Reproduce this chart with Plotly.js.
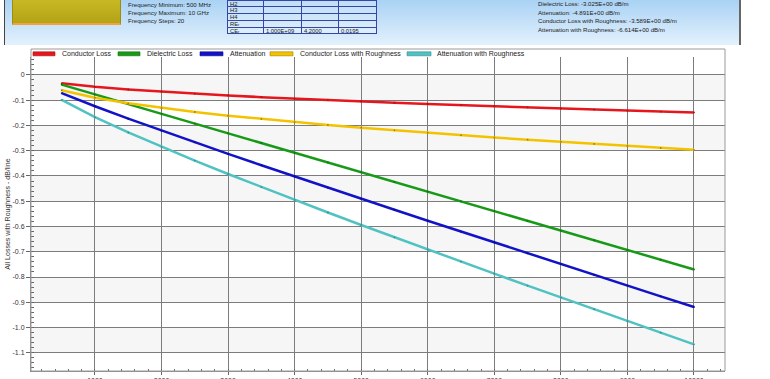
<!DOCTYPE html>
<html>
<head>
<meta charset="utf-8">
<script src="https://cdn.plot.ly/plotly-3.0.1.min.js"></script>
<style>
html,body{margin:0;padding:0;background:#fff;overflow:hidden;}
#wrap{position:relative;width:770px;height:379px;font-family:"Liberation Sans",Arial,sans-serif;}
#chart{position:absolute;left:0;top:0;width:770px;height:379px;}
#panel{position:absolute;left:4px;top:0;width:734px;height:45px;
  background:linear-gradient(#a9d2f4,#e3f1fd);border-left:1.5px solid #444;border-right:2px solid #666;z-index:5;}
#olive{position:absolute;left:7px;top:0;width:107px;height:23px;
  background:linear-gradient(#c9b824,#b3a316);border:1px solid #9c8c12;border-top:none;border-bottom:2px solid #f3a13c;}
.ptxt{position:absolute;font-size:6.1px;color:#222;white-space:nowrap;line-height:8px;}
.cell{position:absolute;border:1px solid #3447a6;box-sizing:border-box;font-size:5.8px;color:#222;
  line-height:6px;padding-left:2px;white-space:nowrap;overflow:hidden;background:rgba(255,255,255,0.25);}
</style>
</head>
<body>
<div id="wrap">
  <div id="chart"></div>
  <div id="panel">
    <div id="olive"></div>
  </div>
</div>
<script>
// ---------------- data ----------------
var freqMHz = [500,1000,1500,2000,2500,3000,3500,4000,4500,5000,5500,6000,6500,7000,7500,8000,8500,9000,9500,10000];
var conductorLoss = [-0.0332,-0.0470,-0.0576,-0.0665,-0.0743,-0.0814,-0.0879,-0.0940,-0.0997,-0.1051,
                     -0.1102,-0.1151,-0.1198,-0.1244,-0.1287,-0.1329,-0.1370,-0.1410,-0.1449,-0.1486];
var dielectricLoss = [-0.0385,-0.0770,-0.1155,-0.1540,-0.1925,-0.2310,-0.2695,-0.3080,-0.3465,-0.3850,
                      -0.4235,-0.4620,-0.5005,-0.5390,-0.5775,-0.6160,-0.6545,-0.6930,-0.7315,-0.7700];
var attenuation = [-0.0717,-0.1240,-0.1731,-0.2205,-0.2668,-0.3124,-0.3574,-0.4020,-0.4462,-0.4901,
                   -0.5337,-0.5771,-0.6203,-0.6634,-0.7062,-0.7489,-0.7915,-0.8340,-0.8764,-0.9186];
var conductorLossRough = [-0.0604,-0.0902,-0.1123,-0.1307,-0.1467,-0.1612,-0.1743,-0.1866,-0.1981,-0.2089,
                          -0.2192,-0.2290,-0.2385,-0.2478,-0.2564,-0.2649,-0.2730,-0.2812,-0.2889,-0.2965];
var attenuationRough = [-0.0989,-0.1672,-0.2278,-0.2847,-0.3392,-0.3922,-0.4438,-0.4946,-0.5446,-0.5939,
                        -0.6427,-0.6910,-0.7390,-0.7868,-0.8339,-0.8809,-0.9275,-0.9742,-1.0204,-1.0665];
var seriesNames = ["Conductor Loss","Dielectric Loss","Attenuation","Conductor Loss with Roughness","Attenuation with Roughness"];
var seriesColors = ["#e5171d","#189a18","#1212c6","#f3c300","#50c2c2"];
var markerColors = ["#a01414","#127012","#0c0c8a","#a08000","#358e8e"];

var yTickVals = [0,-0.1,-0.2,-0.3,-0.4,-0.5,-0.6,-0.7,-0.8,-0.9,-1.0,-1.1];
var yTickText = ["0","-0.1","-0.2","-0.3","-0.4","-0.5","-0.6","-0.7","-0.8","-0.9","-1.0","-1.1"];
var xTickVals = [1000,2000,3000,4000,5000,6000,7000,8000,9000,10000];
var xTickText = ["1000","2000","3000","4000","5000","6000","7000","8000","9000","10000"];
var yTitle = "All Losses with Roughness - dB/line";

var infoLeft = ["Frequency Minimum: 500 MHz","Frequency Maximum: 10 GHz","Frequency Steps: 20"];
var infoRight = ["Dielectric Loss: -3.025E+00 dB/m","Attenuation: -4.891E+00 dB/m",
                 "Conductor Loss with Roughness: -3.589E+00 dB/m","Attenuation with Roughness: -6.614E+00 dB/m"];
var tableRows = [["H2","","",""],["H3","","",""],["H4","","",""],["RE\u1D63","","",""],["CE\u1D63","1.000E+09","4.2000","0.0195"]];

// ---------------- header panel (HTML) ----------------
var panel = document.getElementById("panel");
function addText(txt, left, top){
  var d=document.createElement("div"); d.className="ptxt"; d.textContent=txt;
  d.style.left=(left-4)+"px"; d.style.top=top+"px"; panel.appendChild(d);
}
infoLeft.forEach(function(t,i){ addText(t,127,1+i*8); });
infoRight.forEach(function(t,i){ addText(t,537,0+i*8.5); });
var colX=[226,262,300,337,374.5];
var rowTop=-0.5, rowH=6.8;
tableRows.forEach(function(r,ri){
  r.forEach(function(c,ci){
    var d=document.createElement("div"); d.className="cell"; d.textContent=c;
    d.style.left=(colX[ci]-4)+"px"; d.style.top=(rowTop+ri*rowH)+"px";
    d.style.width=(colX[ci+1]-colX[ci]+1)+"px"; d.style.height=(rowH+1)+"px";
    panel.appendChild(d);
  });
});

// ---------------- chart ----------------
var W=770,H=379, mL=31,mR=45,mT=57,mB=8;
var pw=W-mL-mR, ph=H-mT-mB;
function px(x){return (x-mL)/pw;}
function py(y){return (H-mB-y)/ph;}

var seriesY=[conductorLoss,dielectricLoss,attenuation,conductorLossRough,attenuationRough];
var traces = seriesY.map(function(ys,i){
  return {x:freqMHz,y:ys,name:seriesNames[i],type:"scatter",mode:"lines+markers",
    line:{color:seriesColors[i],width:2.5},marker:{size:1.8,color:markerColors[i]},showlegend:false,hoverinfo:"skip"};
});

var shapes=[];
// alternating bands
for(var k=0;k<yTickVals.length-1;k+=2){
  shapes.push({type:"rect",xref:"paper",yref:"y",x0:0,x1:1,y0:yTickVals[k],y1:yTickVals[k+1],
    fillcolor:"#f6f6f7",line:{width:0},layer:"below"});
}
// outer frame incl. legend strip
shapes.push({type:"rect",xref:"paper",yref:"paper",x0:0,x1:1,y0:0,y1:py(49),
  line:{color:"#9a9a9a",width:1},fillcolor:"rgba(0,0,0,0)",layer:"above"});

// manual legend
var legSw=[[33,55],[118,140],[200,223],[270,293],[407,431]];
var legTx=[60,145,228,298,435];
var annotations=[];
seriesNames.forEach(function(n,i){
  shapes.push({type:"rect",xref:"paper",yref:"paper",x0:px(legSw[i][0]),x1:px(legSw[i][1]),
    y0:py(55.8),y1:py(51.8),fillcolor:seriesColors[i],line:{color:markerColors[i],width:0.6}});
  annotations.push({xref:"paper",yref:"paper",x:px(legTx[i]),y:py(54),text:n,showarrow:false,
    xanchor:"left",yanchor:"middle",font:{size:7,color:"#222",family:"Liberation Sans, Arial"}});
});

var layout={
  width:W,height:H,margin:{l:mL,r:mR,t:mT,b:mB,pad:0},
  paper_bgcolor:"rgba(0,0,0,0)",plot_bgcolor:"#ffffff",
  font:{family:"Liberation Sans, Arial, sans-serif",size:7,color:"#333"},
  showlegend:false,
  xaxis:{range:[39,10466],tickmode:"array",tickvals:xTickVals,ticktext:xTickText,
    showgrid:true,gridcolor:"#7c7c7c",gridwidth:1,zeroline:false,
    showline:true,linecolor:"#8a8a8a",linewidth:1,
    ticks:"outside",ticklen:3,tickcolor:"#666",tickfont:{size:7,color:"#333"},
    minor:{ticks:"inside",dtick:200,tick0:0,ticklen:2.5,tickcolor:"#666",showgrid:false},
    automargin:false,fixedrange:true},
  yaxis:{range:[-1.172,0.071],tickmode:"array",tickvals:yTickVals,ticktext:yTickText,
    showgrid:true,gridcolor:"#7c7c7c",gridwidth:1,zeroline:false,
    showline:true,linecolor:"#8a8a8a",linewidth:1,
    ticks:"outside",ticklen:4,tickcolor:"#666",tickfont:{size:7,color:"#333"},
    minor:{ticks:"inside",dtick:0.02,tick0:0,ticklen:3,tickcolor:"#666",showgrid:false},
    title:{text:yTitle,font:{size:7,color:"#333"},standoff:1},
    automargin:false,fixedrange:true},
  shapes:shapes,annotations:annotations
};
Plotly.newPlot("chart",traces,layout,{displayModeBar:false,staticPlot:true});
</script>
</body>
</html>
